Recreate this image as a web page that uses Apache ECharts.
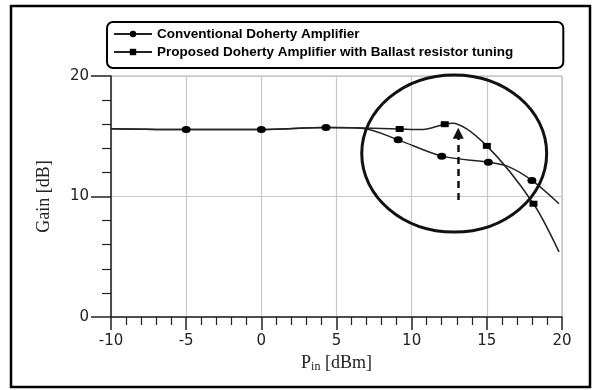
<!DOCTYPE html>
<html><head><meta charset="utf-8">
<script src="https://cdn.jsdelivr.net/npm/echarts@6/dist/echarts.min.js"></script>
<style>html,body{margin:0;padding:0;background:#fff}#c{width:596px;height:390px}</style>
</head><body><div id="c"></div>
<script>
// Data
const convX = [-10, -5, 0, 4.3, 6.8, 9.1, 12.0, 15.1, 16.4, 18.0, 19.8];
const convY = [15.62, 15.55, 15.55, 15.72, 15.65, 14.7, 13.35, 12.85, 12.5, 11.33, 9.4];
const convMarked = [false, true, true, true, false, true, true, true, false, true, false];

const propX = [-10, -5, 0, 4.3, 6.8, 9.2, 10.6, 12.2, 12.7, 15.0, 18.1, 19.8];
const propY = [15.62, 15.55, 15.55, 15.72, 15.68, 15.6, 15.55, 16.0, 16.08, 14.2, 9.4, 5.4];
const propMarked = [false, false, false, false, false, true, false, true, false, true, true, false];

const seriesNames = ['Conventional Doherty Amplifier', 'Proposed Doherty Amplifier with Ballast resistor tuning'];
const xTicks = [-10, -5, 0, 5, 10, 15, 20];
const yTicks = [0, 10, 20];

// annotations (data units)
const ellipseCenter = [12.83, 13.57];
const ellipseRadius = [6.15, 6.52];
const arrowX = 13.1, arrowFrom = 9.7, arrowTo = 15.25;

function build(xs, ys, marks) {
  return xs.map((x, i) => ({ value: [x, ys[i]], symbol: marks[i] ? undefined : 'none' }));
}

const chart = echarts.init(document.getElementById('c'), null, { renderer: 'canvas' });
const tickFont = { fontFamily: 'DejaVu Sans', fontSize: 15, color: '#222' };
chart.setOption({
  animation: false,
  backgroundColor: '#fff',
  grid: { left: 111, right: 34, top: 76, bottom: 73, show: true, borderColor: '#aaa', borderWidth: 1 },
  legend: {
    orient: 'vertical', left: 107, top: 22,
    padding: [5, 50, 9, 6], itemGap: 4,
    itemWidth: 38, itemHeight: 8,
    borderColor: '#000', borderWidth: 2, borderRadius: 6,
    textStyle: { fontFamily: 'Liberation Sans', fontWeight: 'bold', fontSize: 13.5, color: '#000' },
    data: seriesNames
  },
  xAxis: {
    type: 'value', min: -10, max: 20, interval: 5,
    name: '{p|P}{s|in}{p| [dBm]}', nameLocation: 'middle', nameGap: 36,
    nameTextStyle: { rich: {
      p: { fontFamily: 'Liberation Serif', fontSize: 18, color: '#222' },
      s: { fontFamily: 'Liberation Serif', fontSize: 12, color: '#222', verticalAlign: 'bottom', padding: [8, 0, 0, 0] }
    } },
    axisLine: { onZero: false, lineStyle: { color: '#222', width: 1.5 } },
    axisTick: { show: true, length: 13, lineStyle: { color: '#222', width: 1.5 } },
    minorTick: { show: true, splitNumber: 5, length: 8, lineStyle: { color: '#222', width: 1.2 } },
    axisLabel: Object.assign({ margin: 17, formatter: v => xTicks.includes(v) ? String(v) : '' }, tickFont),
    splitLine: { show: true, lineStyle: { color: '#c8c8c8', width: 1.2 } }
  },
  yAxis: {
    type: 'value', min: 0, max: 20, interval: 10,
    name: 'Gain [dB]', nameLocation: 'middle', nameGap: 58,
    nameTextStyle: { fontFamily: 'Liberation Serif', fontSize: 18, color: '#222' },
    axisLine: { onZero: false, lineStyle: { color: '#222', width: 1.5 } },
    axisTick: { show: true, length: 20, lineStyle: { color: '#222', width: 1.5 } },
    minorTick: { show: true, splitNumber: 5, length: 9, lineStyle: { color: '#222', width: 1.2 } },
    axisLabel: Object.assign({ margin: 22, formatter: v => yTicks.includes(v) ? String(v) : '' }, tickFont),
    splitLine: { show: true, lineStyle: { color: '#c8c8c8', width: 1.2 } }
  },
  series: [
    {
      name: seriesNames[0], type: 'line', smooth: 0.3, z: 3,
      data: build(convX, convY, convMarked),
      symbol: 'circle', symbolSize: [9, 7], showSymbol: true,
      itemStyle: { color: '#000' }, lineStyle: { color: '#222', width: 1.5 }
    },
    {
      name: seriesNames[1], type: 'line', smooth: 0.3, z: 2,
      data: build(propX, propY, propMarked),
      symbol: 'rect', symbolSize: [8, 6], showSymbol: true,
      itemStyle: { color: '#000' }, lineStyle: { color: '#222', width: 1.5 },
      markLine: {
        silent: true, animation: false,
        symbol: ['none', 'triangle'], symbolSize: 11,
        label: { show: false },
        lineStyle: { color: '#111', width: 2.5, type: [7, 5] },
        data: [[{ coord: [arrowX, arrowFrom] }, { coord: [arrowX, arrowTo] }]]
      }
    }
  ]
});

const c = chart.convertToPixel({ gridIndex: 0 }, ellipseCenter);
const e = chart.convertToPixel({ gridIndex: 0 }, [ellipseCenter[0] + ellipseRadius[0], ellipseCenter[1] + ellipseRadius[1]]);
chart.setOption({
  graphic: [
    { type: 'ellipse', shape: { cx: c[0], cy: c[1], rx: Math.abs(e[0] - c[0]), ry: Math.abs(e[1] - c[1]) },
      style: { fill: 'none', stroke: '#111', lineWidth: 3 }, z: 100 },
    { type: 'rect', shape: { x: 11, y: 6, width: 579, height: 381 },
      style: { fill: 'none', stroke: '#000', lineWidth: 2.5 }, z: 100 }
  ]
});
</script></body></html>
